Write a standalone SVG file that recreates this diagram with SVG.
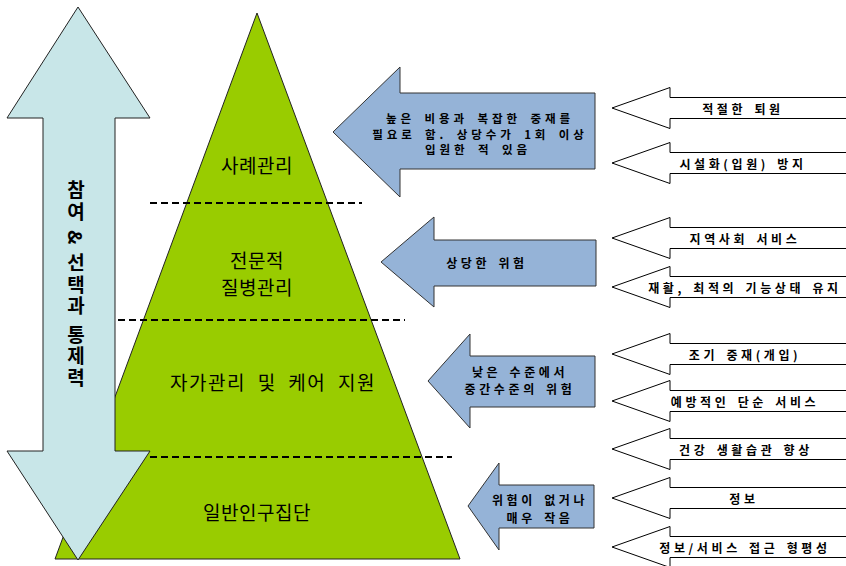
<svg xmlns="http://www.w3.org/2000/svg" width="846" height="566" viewBox="0 0 846 566">
<style>
.pyr{fill:#99CC00;stroke:#222;stroke-width:1}
.dbl{fill:#C8E6E8;stroke:#222;stroke-width:1}
.blue{fill:#95B3D7;stroke:#333;stroke-width:1}
.out{fill:#FFFFFF;stroke:#000;stroke-width:1}
.dash{stroke:#000;stroke-width:2;stroke-dasharray:7,4;fill:none}
.lvl{font-family:"Noto Sans CJK KR","Noto Sans",sans-serif;font-size:19px;fill:#000;text-anchor:middle;letter-spacing:0.5px}
.lbl{font-family:"Noto Sans CJK KR","Noto Sans",sans-serif;font-size:12px;font-weight:bold;fill:#000;text-anchor:middle;letter-spacing:3.6px;word-spacing:2px}
.blbl{letter-spacing:3.9px;word-spacing:3px;font-size:11.5px}
.vert{font-family:"Noto Sans CJK KR","Noto Sans",sans-serif;font-size:19px;font-weight:bold;fill:#000;writing-mode:vertical-rl;text-orientation:mixed;text-anchor:middle;letter-spacing:2.5px}
</style>
<rect width="846" height="566" fill="#FFFFFF"/>

<g id="pyramid">
  <polygon class="pyr" points="257,13 460,559 55,559"/>
  <text class="lvl" x="257" y="173">사례관리</text>
  <text class="lvl" x="257" y="268">전문적</text>
  <text class="lvl" x="257" y="295">질병관리</text>
  <text class="lvl" x="273" y="390" style="letter-spacing:1.5px;word-spacing:6px">자가관리 및 케어 지원</text>
  <text class="lvl" x="257" y="520">일반인구집단</text>
</g>

<g id="dividers">
  <line class="dash" x1="150" y1="203" x2="362" y2="203"/>
  <line class="dash" x1="118" y1="320" x2="405" y2="320"/>
  <line class="dash" x1="150" y1="457" x2="452" y2="457"/>
</g>

<g id="control-arrow">
  <polygon class="dbl" points="78,7 150,118 115,118 115,451 150,451 78,560 7,451 43,451 43,118 7,118"/>
  <text class="vert" x="76" y="285">참여 &amp; 선택과 통제력</text>
</g>

<g id="connectors">
  <g id="risk-high">
    <polygon class="blue" points="333,132 400,67 400,93 595,93 595,169 400,169 400,197"/>
    <text class="lbl blbl" x="480" y="123">높은 비용과 복잡한 중재를</text>
    <text class="lbl blbl" x="480" y="138.5">필요로 함. 상당수가 1회 이상</text>
    <text class="lbl blbl" x="478" y="154">입원한 적 있음</text>
  </g>
  <g id="risk-considerable">
    <polygon class="blue" points="381,262 434,217 434,240 596,240 596,286 434,286 434,307"/>
    <text class="lbl" x="487" y="268">상당한 위험</text>
  </g>
  <g id="risk-medium">
    <polygon class="blue" points="428,381 470,334 470,356 595,356 595,407 470,407 470,428"/>
    <text class="lbl" x="520" y="377">낮은 수준에서</text>
    <text class="lbl" x="520" y="394">중간수준의 위험</text>
  </g>
  <g id="risk-low">
    <polygon class="blue" points="468,506 499,463 499,485 594,485 594,528 499,528 499,550"/>
    <text class="lbl" x="540" y="505">위험이 없거나</text>
    <text class="lbl" x="540" y="523">매우 작음</text>
  </g>

  <g id="svc-discharge">
    <polygon class="out" points="612,108 670,87.5 670,97.5 860,97.5 860,118.5 670,118.5 670,128.5"/>
    <text class="lbl" x="743" y="114">적절한 퇴원</text>
  </g>
  <g id="svc-institution">
    <polygon class="out" points="612,163 670,142.5 670,152.5 860,152.5 860,173.5 670,173.5 670,183.5"/>
    <text class="lbl" x="743" y="169">시설화(입원) 방지</text>
  </g>
  <g id="svc-community">
    <polygon class="out" points="612,238 670,217.5 670,227.5 860,227.5 860,248.5 670,248.5 670,258.5"/>
    <text class="lbl" x="745" y="244">지역사회 서비스</text>
  </g>
  <g id="svc-rehab">
    <polygon class="out" points="612,287 670,266.5 670,276.5 860,276.5 860,297.5 670,297.5 670,307.5"/>
    <text class="lbl" x="745" y="293">재활, 최적의 기능상태 유지</text>
  </g>
  <g id="svc-early">
    <polygon class="out" points="612,354 670,333.5 670,343.5 860,343.5 860,364.5 670,364.5 670,374.5"/>
    <text class="lbl" x="745" y="360">조기 중재(개입)</text>
  </g>
  <g id="svc-prevent">
    <polygon class="out" points="612,401 670,380.5 670,390.5 860,390.5 860,411.5 670,411.5 670,421.5"/>
    <text class="lbl" x="745" y="407">예방적인 단순 서비스</text>
  </g>
  <g id="svc-lifestyle">
    <polygon class="out" points="612,449 670,428.5 670,438.5 860,438.5 860,459.5 670,459.5 670,469.5"/>
    <text class="lbl" x="746" y="455">건강 생활습관 향상</text>
  </g>
  <g id="svc-info">
    <polygon class="out" points="612,498 670,477.5 670,487.5 860,487.5 860,508.5 670,508.5 670,518.5"/>
    <text class="lbl" x="744" y="504">정보</text>
  </g>
  <g id="svc-equity">
    <polygon class="out" points="612,547 670,526.5 670,536.5 860,536.5 860,557.5 670,557.5 670,567.5"/>
    <text class="lbl" x="745" y="553">정보/서비스 접근 형평성</text>
  </g>
</g>
</svg>
